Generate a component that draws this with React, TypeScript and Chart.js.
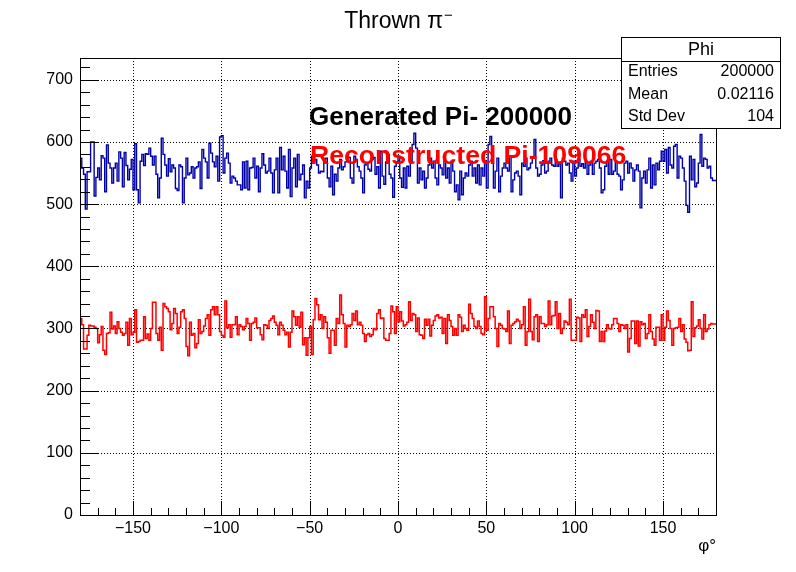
import React, { useEffect, useRef } from "react";
import { Chart, registerables } from "chart.js";
Chart.register(...registerables);

// ---- data ----
const xMin = -180;
const xMax = 180;
const binWidth = 1;
const yMin = 0;
const yMax = 735;

const generated = [
  574,574,558,548,492,552,552,600,600,513,543,558,539,578,574,520,595,566,558,534,
  558,566,537,584,574,528,583,562,539,556,572,523,597,523,502,569,580,562,581,580,
  590,577,563,577,548,510,542,606,580,563,545,573,552,563,558,525,522,563,560,502,
  542,574,547,550,560,542,558,560,568,525,588,574,568,542,598,582,568,560,577,537,
  608,610,550,574,582,566,534,545,542,537,531,531,523,568,526,569,523,558,559,574,
  542,561,520,558,581,563,550,553,574,550,518,555,574,518,591,555,577,553,526,588,
  512,558,574,528,580,539,548,563,510,537,526,558,577,568,572,563,550,553,552,572,
  574,542,528,561,515,548,537,558,572,555,560,568,577,575,542,534,577,572,560,553,
  542,518,563,566,556,553,572,575,548,560,526,585,545,532,568,580,548,542,511,561,
  568,577,542,527,558,526,561,545,569,596,614,590,534,558,539,553,526,542,563,574,
  558,569,542,531,563,558,547,569,542,558,534,569,553,520,531,507,553,515,542,550,
  545,563,569,545,558,534,563,531,558,545,569,526,596,609,585,526,553,574,520,545,
  558,566,558,553,577,520,539,550,553,545,515,566,561,574,555,558,566,574,604,558,
  545,548,563,570,550,553,569,574,563,561,572,561,565,510,574,569,563,566,550,537,
  569,545,558,572,561,565,558,569,548,563,569,548,566,569,572,558,518,523,561,569,
  548,572,548,553,569,548,545,523,539,566,569,550,566,558,537,555,563,553,494,542,
  553,534,555,574,526,563,531,566,555,569,585,569,588,550,591,563,558,593,596,542,
  577,574,558,537,498,487,577,539,572,528,534,566,612,561,574,572,558,561,542,538,
];

const reconstructed = [
  290,316,306,267,267,289,305,304,304,302,300,277,290,303,265,258,292,293,326,299,
  304,292,311,300,294,289,292,310,273,316,290,294,330,278,279,281,281,319,284,291,
  281,300,342,342,292,281,302,265,340,335,332,327,298,308,332,324,292,302,327,330,
  316,271,256,310,289,292,269,276,314,292,295,304,316,322,289,330,335,322,335,322,
  295,289,286,344,301,306,286,306,306,319,290,306,303,298,303,316,308,281,308,310,
  317,301,301,290,282,306,305,300,313,316,320,310,305,290,310,305,297,290,294,270,
  294,328,319,305,319,302,326,274,285,257,285,303,258,314,348,338,314,322,300,319,
  310,285,260,297,297,273,316,308,354,322,308,270,305,303,306,324,313,328,306,310,
  305,292,279,290,292,287,290,300,298,324,330,316,317,284,281,281,292,336,327,292,
  335,311,327,312,304,306,310,343,313,324,322,295,317,290,289,284,315,305,315,288,
  305,313,320,322,317,318,292,316,276,322,313,303,289,300,289,322,318,295,305,300,
  297,339,324,316,303,300,312,303,292,290,351,297,316,335,335,319,300,271,308,305,
  300,299,295,328,276,305,308,311,315,312,300,306,335,273,295,347,295,282,319,322,
  279,319,308,308,303,306,344,306,320,321,343,300,324,292,300,312,310,306,347,281,
  281,281,318,317,279,322,318,330,287,303,322,310,300,329,328,279,295,279,296,306,
  300,299,306,316,316,308,295,306,305,300,306,262,284,312,312,276,312,272,311,306,
  308,284,292,322,295,283,273,302,302,281,322,281,302,328,313,300,273,300,301,302,
  316,295,306,283,278,264,265,343,287,301,304,314,300,283,322,295,299,306,308,307,
];

const xMajorTicks = [-150, -100, -50, 0, 50, 100, 150];
const xMinorTicks = [
  -170,-160,-140,-130,-120,-110,-90,-80,-70,-60,-40,-30,-20,-10,
  10,20,30,40,60,70,80,90,110,120,130,140,160,170,
];
const yMajorTicks = [0, 100, 200, 300, 400, 500, 600, 700];
const yMinorTicks = [
  20,40,60,80,120,140,160,180,220,240,260,280,320,340,360,380,
  420,440,460,480,520,540,560,580,620,640,660,680,720,
];

const titleMain = "Thrown π";
const titleSup = "−";
const xAxisTitle = "φ°";
const labelGenerated = "Generated Pi- 200000";
const labelReconstructed = "Reconstructed Pi-109066";
const statsTitle = "Phi";
const statsRows: [string, string][] = [
  ["Entries", "200000"],
  ["Mean", "0.02116"],
  ["Std Dev", "104"],
];

const FONT = '"Liberation Sans", Arial, Helvetica, sans-serif';

function toSteps(values: number[]) {
  const pts = values.map((v, i) => ({ x: xMin + i * binWidth, y: v }));
  pts.push({ x: xMin + values.length * binWidth, y: values[values.length - 1] });
  return pts;
}

function fmt(v: number) {
  return v < 0 ? "\u2212" + Math.abs(v) : String(v);
}

const rootPlugin = {
  id: "rootStyle",
  beforeDatasetsDraw(chart: any) {
    const { ctx, chartArea: a, scales } = chart;
    const x = scales.x, y = scales.y;
    ctx.save();
    ctx.strokeStyle = "#000";
    ctx.lineWidth = 1;
    ctx.setLineDash([1, 2]);
    for (const v of xMajorTicks) {
      const px = Math.round(x.getPixelForValue(v)) + 0.5;
      ctx.beginPath();
      ctx.moveTo(px, a.top);
      ctx.lineTo(px, a.bottom);
      ctx.stroke();
    }
    for (const v of yMajorTicks) {
      if (v === 0) continue;
      const py = Math.round(y.getPixelForValue(v)) + 0.5;
      ctx.beginPath();
      ctx.moveTo(a.left, py);
      ctx.lineTo(a.right, py);
      ctx.stroke();
    }
    ctx.restore();
  },
  afterDraw(chart: any) {
    const { ctx, chartArea: a, scales } = chart;
    const x = scales.x, y = scales.y;
    ctx.save();
    ctx.setLineDash([]);
    ctx.strokeStyle = "#000";
    ctx.lineWidth = 1;
    // frame
    ctx.strokeRect(Math.round(a.left) + 0.5, Math.round(a.top) + 0.5, Math.round(a.right - a.left), Math.round(a.bottom - a.top));
    // x ticks
    const xl = 14, xs = 7;
    ctx.beginPath();
    for (const v of xMajorTicks) {
      const px = Math.round(x.getPixelForValue(v)) + 0.5;
      ctx.moveTo(px, a.bottom);
      ctx.lineTo(px, a.bottom - xl);
    }
    for (const v of xMinorTicks) {
      const px = Math.round(x.getPixelForValue(v)) + 0.5;
      ctx.moveTo(px, a.bottom);
      ctx.lineTo(px, a.bottom - xs);
    }
    // y ticks
    const yl = 19, ys = 10;
    for (const v of yMajorTicks) {
      const py = Math.round(y.getPixelForValue(v)) + 0.5;
      ctx.moveTo(a.left, py);
      ctx.lineTo(a.left + yl, py);
    }
    for (const v of yMinorTicks) {
      const py = Math.round(y.getPixelForValue(v)) + 0.5;
      ctx.moveTo(a.left, py);
      ctx.lineTo(a.left + ys, py);
    }
    ctx.stroke();

    // tick labels
    ctx.fillStyle = "#000";
    ctx.font = `16px ${FONT}`;
    ctx.textAlign = "center";
    ctx.textBaseline = "alphabetic";
    for (const v of xMajorTicks) {
      ctx.fillText(fmt(v), x.getPixelForValue(v), a.bottom + 18);
    }
    ctx.textAlign = "right";
    ctx.textBaseline = "middle";
    for (const v of yMajorTicks) {
      ctx.fillText(fmt(v), a.left - 7, y.getPixelForValue(v));
    }

    // axis title
    ctx.textAlign = "right";
    ctx.textBaseline = "alphabetic";
    ctx.font = `17px ${FONT}`;
    ctx.fillText(xAxisTitle, a.right, a.bottom + 36);

    // main title
    ctx.font = `23px ${FONT}`;
    const w1 = ctx.measureText(titleMain).width;
    ctx.font = `15px ${FONT}`;
    const w2 = ctx.measureText(titleSup).width;
    const tx = 398 - (w1 + w2) / 2;
    ctx.textAlign = "left";
    ctx.font = `23px ${FONT}`;
    ctx.fillText(titleMain, tx, 28);
    ctx.font = `15px ${FONT}`;
    ctx.fillText(titleSup, tx + w1 + 1, 20);

    // annotations
    ctx.font = `bold 26px ${FONT}`;
    ctx.fillStyle = "#000";
    ctx.fillText(labelGenerated, 309, 125);
    ctx.font = `bold 26.6px ${FONT}`;
    ctx.fillStyle = "#ff0000";
    ctx.fillText(labelReconstructed, 310, 164);

    // stats box
    const bx = 621.5, by = 37.5, bw = 159, bh = 91;
    ctx.fillStyle = "#fff";
    ctx.fillRect(bx, by, bw, bh);
    ctx.strokeStyle = "#000";
    ctx.strokeRect(bx, by, bw, bh);
    ctx.beginPath();
    ctx.moveTo(bx, 61.5);
    ctx.lineTo(bx + bw, 61.5);
    ctx.stroke();
    ctx.fillStyle = "#000";
    ctx.font = `18px ${FONT}`;
    ctx.textAlign = "center";
    ctx.textBaseline = "middle";
    ctx.fillText(statsTitle, bx + bw / 2, 50);
    ctx.font = `16px ${FONT}`;
    const rowY = [72, 95, 117];
    statsRows.forEach(([k, v], i) => {
      ctx.textAlign = "left";
      ctx.fillText(k, 628, rowY[i]);
      ctx.textAlign = "right";
      ctx.fillText(v, 774, rowY[i]);
    });
    ctx.restore();
  },
};

export default function App() {
  const ref = useRef<HTMLCanvasElement | null>(null);
  useEffect(() => {
    document.body.style.margin = "0";
    const canvas = ref.current;
    if (!canvas) return;
    const chart = new Chart(canvas, {
      type: "line",
      data: {
        datasets: [
          {
            label: "Generated",
            data: toSteps(generated),
            borderColor: "#0000a8",
            borderWidth: 1.4,
            pointRadius: 0,
            stepped: "after",
            fill: false,
          },
          {
            label: "Reconstructed",
            data: toSteps(reconstructed),
            borderColor: "#ff0000",
            borderWidth: 1.5,
            pointRadius: 0,
            stepped: "after",
            fill: false,
          },
        ],
      },
      options: {
        animation: false,
        responsive: false,
        devicePixelRatio: 1,
        layout: { padding: { top: 58, right: 80, left: 0, bottom: 0 } },
        plugins: {
          legend: { display: false },
          tooltip: { enabled: false },
          title: { display: false },
        },
        scales: {
          x: {
            type: "linear",
            min: xMin,
            max: xMax,
            grid: { display: false },
            border: { display: false },
            ticks: { display: false },
            afterFit: (s: any) => { s.height = 57; },
          },
          y: {
            type: "linear",
            min: yMin,
            max: yMax,
            grid: { display: false },
            border: { display: false },
            ticks: { display: false },
            afterFit: (s: any) => { s.width = 80; },
          },
        },
      },
      plugins: [rootPlugin],
    });
    return () => chart.destroy();
  }, []);
  return (
    <div style={{ position: "absolute", left: 0, top: 0 }}>
      <canvas ref={ref} width={796} height={572} style={{ width: 796, height: 572, display: "block" }} />
    </div>
  );
}
